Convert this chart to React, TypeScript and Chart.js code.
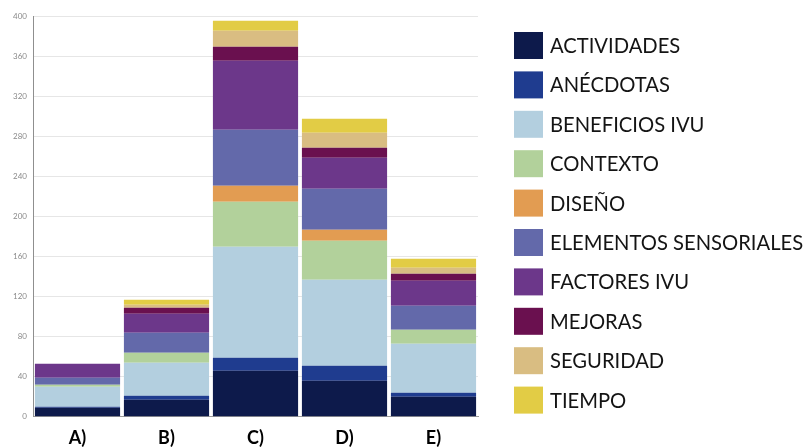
import React, { useEffect, useRef } from "react";
import { Chart, registerables } from "chart.js";

Chart.register(...registerables);

const categories = ["A)", "B)", "C)", "D)", "E)"];
const seriesNames = [
  "ACTIVIDADES",
  "ANÉCDOTAS",
  "BENEFICIOS IVU",
  "CONTEXTO",
  "DISEÑO",
  "ELEMENTOS SENSORIALES",
  "FACTORES IVU",
  "MEJORAS",
  "SEGURIDAD",
  "TIEMPO",
];
const actividades = [9, 17, 46, 36, 20];
const anecdotas = [1, 4, 13, 15, 4];
const beneficios = [20, 33, 111, 86, 49];
const contexto = [2, 10, 45, 39, 14];
const diseno = [0, 0, 16, 11, 0];
const elementos = [7, 20, 56, 41, 24];
const factores = [14, 19, 69, 31, 25];
const mejoras = [0, 6, 14, 10, 7];
const seguridad = [0, 3, 16, 15, 6];
const tiempo = [0, 5, 10, 14, 9];
const yTicks = [0, 40, 80, 120, 160, 200, 240, 280, 320, 360, 400];

const seriesValues = [
  actividades, anecdotas, beneficios, contexto, diseno,
  elementos, factores, mejoras, seguridad, tiempo,
];
const colors = [
  "#0d1a4b", "#1f3c8f", "#b3cfdf", "#b2d19b", "#e29c52",
  "#6369aa", "#6c378a", "#6a104f", "#d9bd82", "#e2cc45",
];

const legendPlugin = {
  id: "sideLegend",
  afterDraw(chart: any) {
    const ctx = chart.ctx;
    const boxX = 514;
    const boxW = 29;
    const boxH = 27;
    const top0 = 32;
    const step = 39.4;
    ctx.save();
    ctx.font = "20.2px Lato, 'Open Sans', sans-serif";
    ctx.textBaseline = "middle";
    ctx.textAlign = "left";
    chart.data.datasets.forEach((ds: any, i: number) => {
      const y = top0 + i * step;
      ctx.fillStyle = ds.backgroundColor;
      ctx.fillRect(boxX, y, boxW, boxH);
      ctx.fillStyle = "#141414";
      ctx.fillText(ds.label, boxX + boxW + 7, y + boxH / 2 + 1);
    });
    ctx.restore();
  },
};

export default function App() {
  const ref = useRef<HTMLCanvasElement | null>(null);
  useEffect(() => {
    if (!ref.current) return;
    const chart = new Chart(ref.current, {
      type: "bar",
      data: {
        labels: categories,
        datasets: seriesNames.map((name, i) => ({
          label: name,
          data: seriesValues[i],
          backgroundColor: colors[i],
          borderWidth: 0,
          barPercentage: 0.957,
          categoryPercentage: 1,
        })),
      },
      options: {
        responsive: false,
        animation: false,
        layout: { padding: { top: 16.7, right: 328, left: 0, bottom: 0 } },
        plugins: {
          legend: { display: false },
          tooltip: { enabled: false },
        },
        scales: {
          x: {
            stacked: true,
            grid: { display: false, drawTicks: false },
            border: { display: true, color: "#9a9a9a" },
            ticks: {
              color: "#000",
              font: { family: "Lato, 'Open Sans', sans-serif", size: 18, weight: "bold" },
              padding: 11,
            },
            afterFit: (s: any) => { s.height = 31.3; },
          },
          y: {
            stacked: true,
            min: 0,
            max: 400,
            afterBuildTicks: (s: any) => { s.ticks = yTicks.map((v) => ({ value: v })); },
            grid: { color: "#e6e6e6", drawTicks: false },
            border: { display: true, color: "#8f8f8f" },
            ticks: {
              color: "#8a8a8a",
              font: { family: "Lato, 'Open Sans', sans-serif", size: 8 },
              padding: 6,
            },
            afterFit: (s: any) => { s.width = 33; },
          },
        },
      },
      plugins: [legendPlugin],
    });
    return () => chart.destroy();
  }, []);
  return (
    <div style={{ position: "fixed", left: 0, top: 0, width: 806, height: 448, background: "#fff" }}>
      <canvas ref={ref} width={806} height={448} style={{ display: "block" }} />
    </div>
  );
}
